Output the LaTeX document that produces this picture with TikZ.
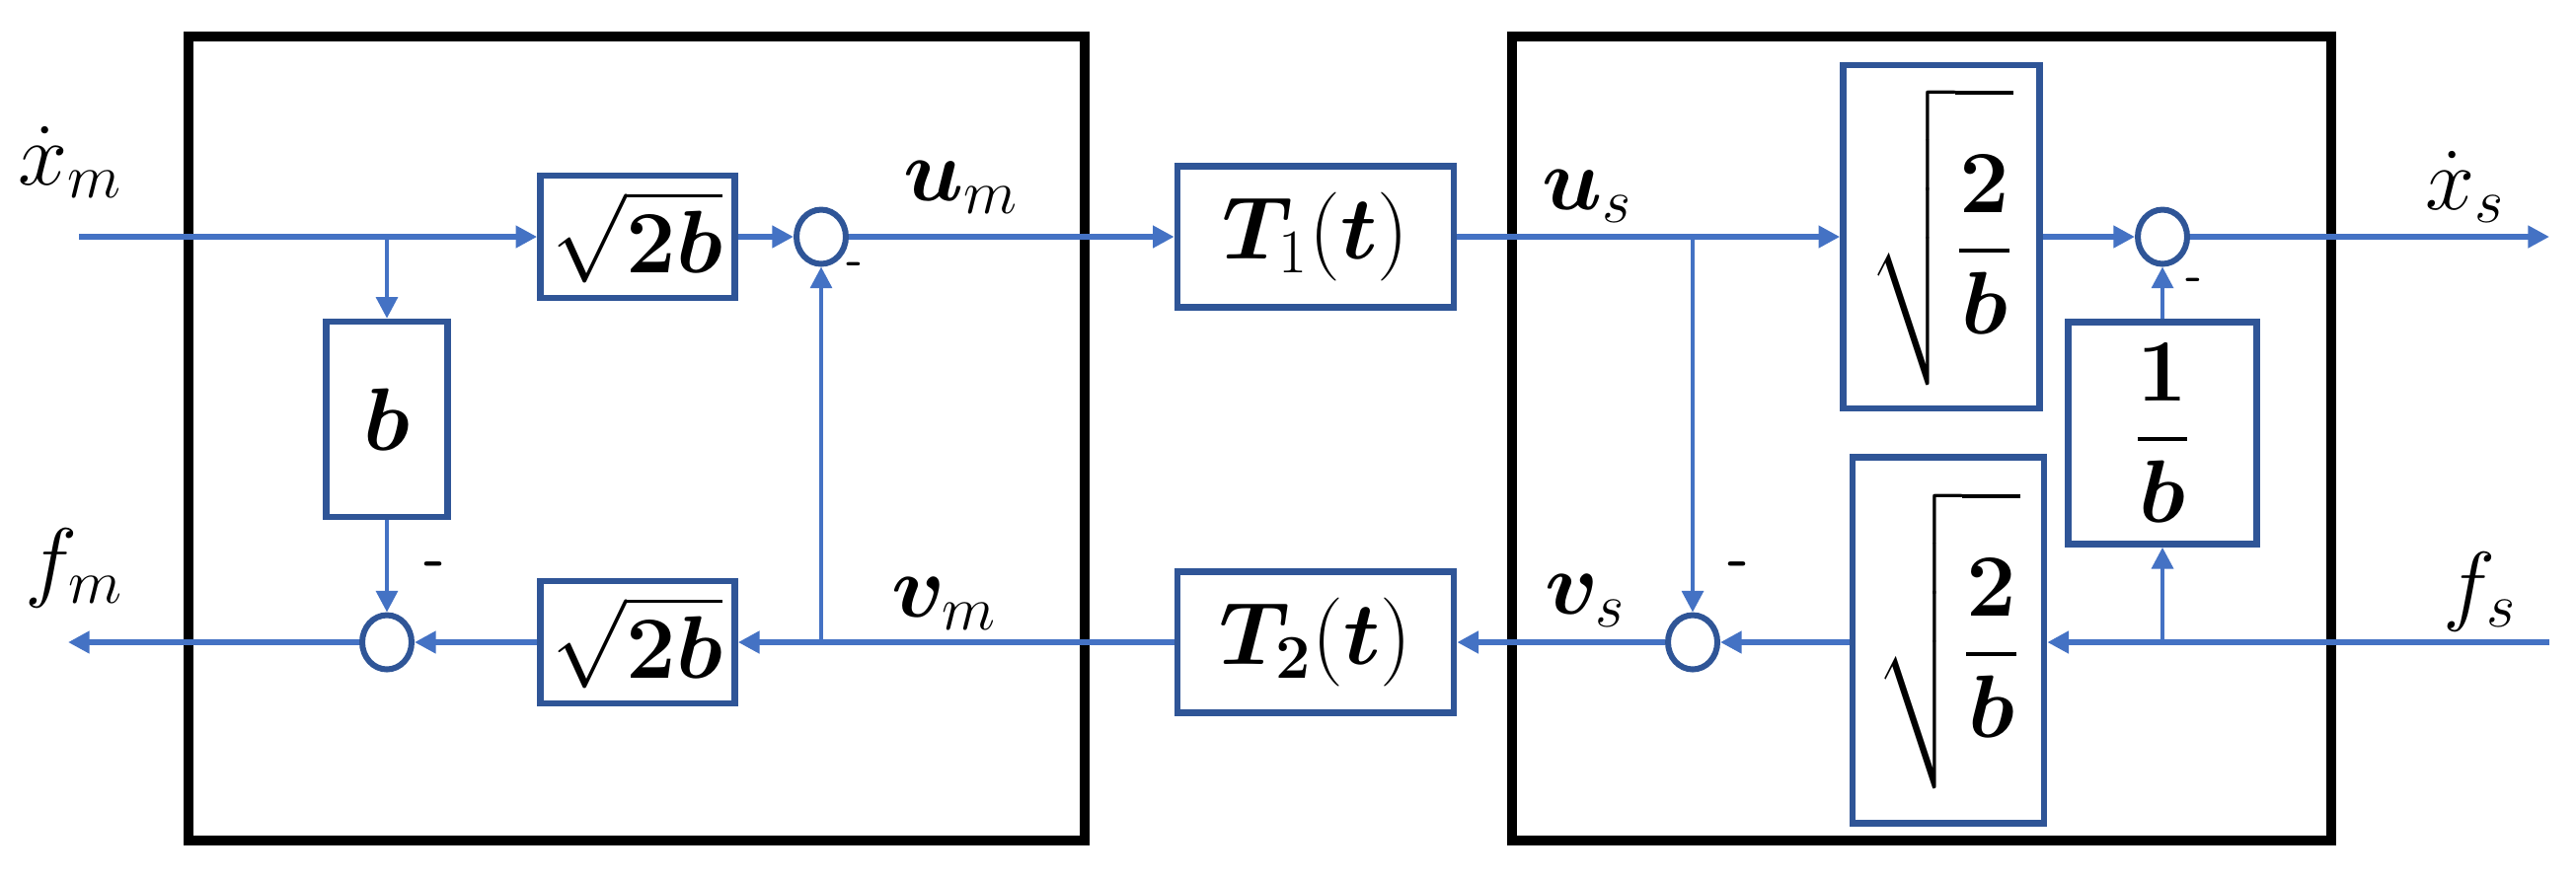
\RequirePackage{fix-cm}
\documentclass[tikz,border=0pt]{standalone}
\usepackage{amsmath,bm}
\usetikzlibrary{arrows.meta,shapes.geometric}
\definecolor{wire}{RGB}{68,114,196}
\definecolor{boxblue}{RGB}{47,85,151}
\begin{document}
\begin{tikzpicture}[x=0.3pt,y=-0.3pt,
 frame/.style={draw=black,line width=3pt},
 blk/.style={draw=boxblue,line width=2pt,fill=white,inner sep=0pt,font=\fontsize{27}{32}\selectfont},
 sumj/.style={ellipse,draw=boxblue,line width=1.8pt,fill=white,minimum width=15pt,minimum height=16.5pt,inner sep=0pt},
 main/.style={draw=wire,line width=2pt,-{Triangle[length=6.5pt,width=6.5pt]}},
 feed/.style={draw=wire,line width=1.3pt,-{Triangle[length=6.5pt,width=6.5pt]}},
 lab/.style={anchor=base west,inner sep=0pt,font=\fontsize{27}{32}\selectfont},
 sgn/.style={inner sep=0pt,font=\sffamily\bfseries\fontsize{18}{20}\selectfont},
 sgns/.style={inner sep=0pt,font=\sffamily\bfseries\fontsize{14}{16}\selectfont}]
\useasboundingbox (0,0) rectangle (2610,890);

% frames
\draw[frame] (191,37) rectangle (1099,852);
\draw[frame] (1532,37) rectangle (2362,852);

% blocks
\node[blk,minimum width=59.1pt,minimum height=37.2pt] (s2b1) at (646,240) {$\sqrt{\mathbf{2}\bm{b}}$};
\node[blk,minimum width=59.1pt,minimum height=37.2pt] (s2b2) at (646,651) {$\sqrt{\mathbf{2}\bm{b}}$};
\node[blk,minimum width=36.9pt,minimum height=59.4pt] (bb) at (392,425) {$\bm{b}$};
\node[blk,minimum width=84pt,minimum height=42.9pt] (T1) at (1333,240) {$\bm{T}_{1}(\bm{t})$};
\node[blk,minimum width=84pt,minimum height=42.9pt] (T2) at (1333,651) {$\bm{T}_{\mathbf{2}}(\bm{t})$};
\node[blk,minimum width=59.7pt,minimum height=104.4pt] (r1) at (1967,240)
  {$\displaystyle\sqrt{\rule[-28pt]{0pt}{72pt}\dfrac{\mathbf{2}}{\bm{b}}}$};
\node[blk,minimum width=58.2pt,minimum height=111.3pt] (r2) at (1974,649)
  {$\displaystyle\sqrt{\rule[-28pt]{0pt}{72pt}\dfrac{\mathbf{2}}{\bm{b}}}$};
\node[blk,minimum width=57.3pt,minimum height=67.5pt] (ib) at (2191,439) {$\displaystyle\dfrac{\mathbf{1}}{\bm{b}}$};

% summing junctions
\node[sumj] (c1) at (832,240) {};
\node[sumj] (c2) at (392,651) {};
\node[sumj] (c3) at (2191,240) {};
\node[sumj] (c4) at (1715,651) {};

% free ends and branch points
\coordinate (xin) at (80,240);
\coordinate (xout) at (2583,240);
\coordinate (fin) at (2583,651);
\coordinate (fout) at (69,651);
\coordinate (bA) at (392,240);
\coordinate (bB) at (832,651);
\coordinate (bC) at (1715,240);
\coordinate (bD) at (2191,651);

% top row
\draw[main] (xin) -- (s2b1.west);
\draw[feed] (bA) -- (bb.north);
\draw[main] (s2b1.east) -- (c1.west);
\draw[main] (c1.east) -- (T1.west);
\draw[main] (T1.east) -- (r1.west);
\draw[feed] (bC) -- (c4.north);
\draw[main] (r1.east) -- (c3.west);
\draw[main] (c3.east) -- (xout);
\draw[feed] (ib.north) -- (c3.south);
% bottom row
\draw[main] (fin) -- (fin -| r2.east);
\draw[feed] (bD) -- (ib.south);
\draw[main] (r2.west |- c4) -- (c4.east);
\draw[main] (c4.west) -- (T2.east);
\draw[main] (T2.west) -- (s2b2.east);
\draw[feed] (bB) -- (c1.south);
\draw[main] (s2b2.west) -- (c2.east);
\draw[main] (c2.west) -- (fout);
\draw[feed] (bb.south) -- (c2.north);

% signal labels
\node[lab] (lxm) at (18,187) {$\dot{x}_m$};
\node[lab] (lfm) at (25,598) {$f_m$};
\node[lab] (lum) at (915,203) {$\bm{u}_m$};
\node[lab] (lvm) at (903,625) {$\bm{v}_m$};
\node[lab] (lus) at (1562,212) {$\bm{u}_s$};
\node[lab] (lvs) at (1565,622) {$\bm{v}_s$};
\node[lab] (lxs) at (2457,212) {$\dot{x}_s$};
\node[lab] (lfs) at (2475,622) {$f_s$};

% minus signs
\node[sgns] (m1) at (866,272) {-};
\node[sgn] (m2) at (441,578) {-};
\node[sgns] (m3) at (2223,288) {-};
\node[sgn] (m4) at (1761,578) {-};
\end{tikzpicture}
\end{document}
